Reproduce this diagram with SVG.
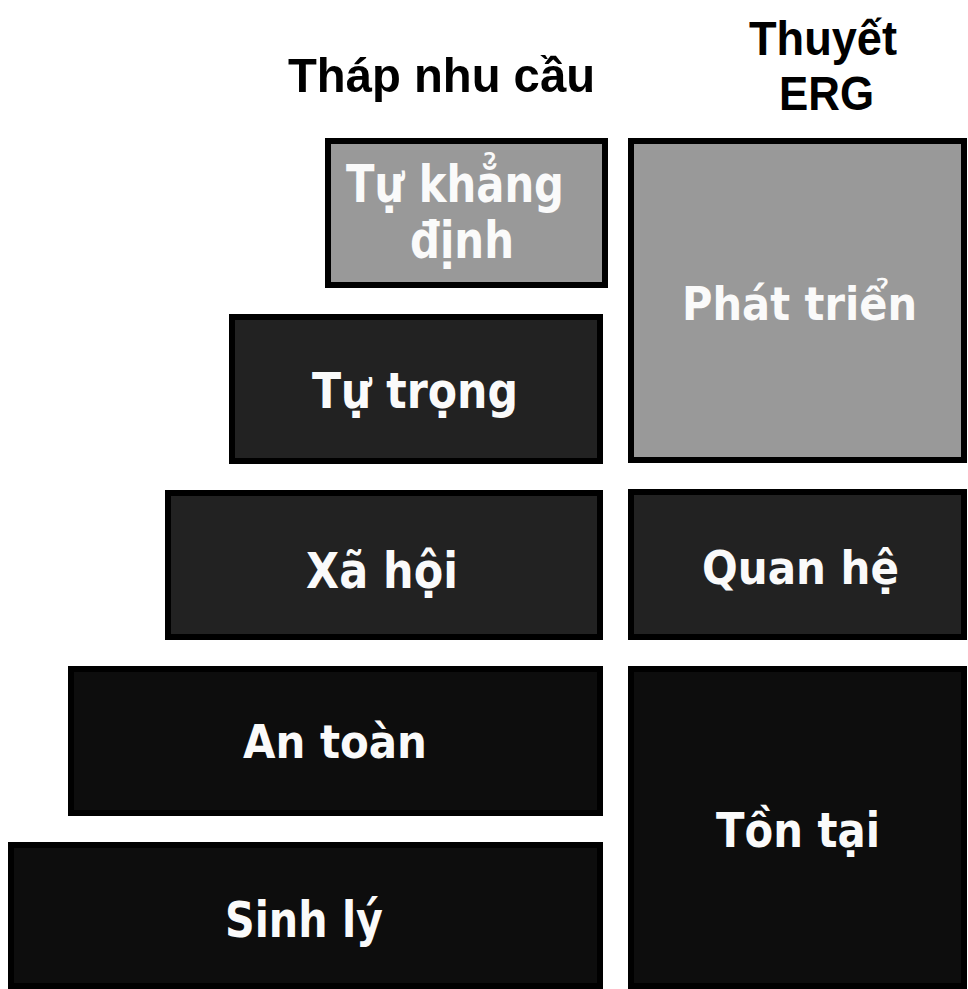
<svg xmlns="http://www.w3.org/2000/svg" width="968" height="989" viewBox="0 0 968 989">
  <style>
    .box { stroke: #000000; stroke-width: 6; }
    .light { fill: #999999; }
    .mid { fill: #222222; }
    .dark { fill: #0d0d0d; }
    .lbl { font-family: "DejaVu Sans", Verdana, sans-serif; font-weight: bold; fill: #fafafa; }
    .head { font-family: "Liberation Sans", Arial, sans-serif; font-weight: bold; fill: #000000; font-size: 49px; }
  </style>
  <rect width="968" height="989" fill="#ffffff"/>
  <g id="headings">
    <text class="head" x="288" y="92" textLength="307" lengthAdjust="spacingAndGlyphs">Tháp nhu cầu</text>
    <text class="head" x="749" y="55" textLength="148" lengthAdjust="spacingAndGlyphs">Thuyết</text>
    <text class="head" x="779" y="110" textLength="95" lengthAdjust="spacingAndGlyphs">ERG</text>
  </g>
  <g id="node-tu-khang-dinh">
    <rect class="box light" x="328" y="141" width="277" height="144"/>
    <text class="lbl" font-size="51" x="346" y="202" textLength="218" lengthAdjust="spacingAndGlyphs">Tự khẳng</text>
    <text class="lbl" font-size="51" x="410" y="258" textLength="104" lengthAdjust="spacingAndGlyphs">định</text>
  </g>
  <g id="node-phat-trien">
    <rect class="box light" x="631" y="141" width="333" height="319"/>
    <text class="lbl" font-size="47" x="682" y="320" textLength="235" lengthAdjust="spacingAndGlyphs">Phát triển</text>
  </g>
  <g id="node-tu-trong">
    <rect class="box mid" x="232" y="317" width="368" height="144"/>
    <text class="lbl" font-size="50" x="312" y="408" textLength="206" lengthAdjust="spacingAndGlyphs">Tự trọng</text>
  </g>
  <g id="node-xa-hoi">
    <rect class="box mid" x="168" y="493" width="432" height="144"/>
    <text class="lbl" font-size="50" x="306" y="588" textLength="152" lengthAdjust="spacingAndGlyphs">Xã hội</text>
  </g>
  <g id="node-quan-he">
    <rect class="box mid" x="631" y="492" width="333" height="145"/>
    <text class="lbl" font-size="47" x="702" y="584" textLength="197" lengthAdjust="spacingAndGlyphs">Quan hệ</text>
  </g>
  <g id="node-an-toan">
    <rect class="box dark" x="71" y="669" width="529" height="144"/>
    <text class="lbl" font-size="47" x="243" y="758" textLength="184" lengthAdjust="spacingAndGlyphs">An toàn</text>
  </g>
  <g id="node-sinh-ly">
    <rect class="box dark" x="11" y="845" width="589" height="141"/>
    <text class="lbl" font-size="49" x="225" y="937" textLength="158" lengthAdjust="spacingAndGlyphs">Sinh lý</text>
  </g>
  <g id="node-ton-tai">
    <rect class="box dark" x="631" y="669" width="333" height="317"/>
    <text class="lbl" font-size="48" x="716" y="847" textLength="164" lengthAdjust="spacingAndGlyphs">Tồn tại</text>
  </g>
  <g id="connectors"/>
</svg>
